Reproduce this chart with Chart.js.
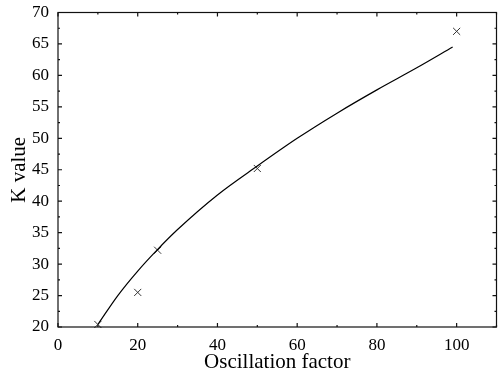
<!DOCTYPE html>
<html>
<head>
<meta charset="utf-8">
<script src="https://cdn.jsdelivr.net/npm/chart.js@4"></script>
<style>
  html, body { margin: 0; padding: 0; background: #fff; }
  #wrap { width: 498px; height: 373px; position: relative; }
</style>
</head>
<body>
<div id="wrap"><canvas id="c" width="498" height="373"></canvas></div>
<script>
// Measured points (crosses)
const measuredX = [10, 20, 25, 50, 100];
const measuredY = [20.4, 25.5, 32.2, 45.2, 67.0];

// Fitted curve
const curveX = [10, 15, 20, 25, 30, 40, 50, 60, 70, 80, 90, 99];
const curveY = [20.4, 25.0, 28.9, 32.35, 35.5, 41.0, 45.6, 50.0, 54.0, 57.7, 61.2, 64.5];

// Axes
const xTicks = [0, 20, 40, 60, 80, 100];
const yTicks = [20, 25, 30, 35, 40, 45, 50, 55, 60, 65, 70];
const xMinorStep = 10;
const yMinorStep = 2.5;
const xTitle = 'Oscillation factor';
const yTitle = 'K value';

const FONT = "'Liberation Serif', 'Times New Roman', serif";

const framePlugin = {
  id: 'frame',
  afterDraw(chart) {
    const {ctx, chartArea: a, scales: {x, y}} = chart;
    ctx.save();
    ctx.strokeStyle = '#111';
    ctx.lineWidth = 1.2;
    ctx.strokeRect(a.left, a.top, a.right - a.left, a.bottom - a.top);
    ctx.beginPath();
    for (let v = x.min; v <= x.max + 1e-9; v += xMinorStep) {
      const px = x.getPixelForValue(v);
      const major = xTicks.includes(v);
      const len = major ? 4 : 2;
      ctx.moveTo(px, a.bottom); ctx.lineTo(px, a.bottom - len);
      ctx.moveTo(px, a.top); ctx.lineTo(px, a.top + len);
    }
    for (let v = y.min; v <= y.max + 1e-9; v += yMinorStep) {
      const py = y.getPixelForValue(v);
      const major = yTicks.includes(v);
      const len = major ? 4 : 2;
      ctx.moveTo(a.left, py); ctx.lineTo(a.left + len, py);
      ctx.moveTo(a.right, py); ctx.lineTo(a.right - len, py);
    }
    ctx.stroke();
    ctx.restore();
  }
};

new Chart(document.getElementById('c'), {
  type: 'scatter',
  data: {
    datasets: [
      {
        label: 'fit',
        data: curveX.map((v, i) => ({x: v, y: curveY[i]})),
        showLine: true,
        borderColor: '#000',
        borderWidth: 1.2,
        pointRadius: 0,
        cubicInterpolationMode: 'monotone',
        fill: false
      },
      {
        label: 'measured',
        data: measuredX.map((v, i) => ({x: v, y: measuredY[i]})),
        pointStyle: 'crossRot',
        pointRadius: 5,
        borderColor: '#333',
        backgroundColor: '#333',
        pointBorderWidth: 1,
        showLine: false,
        clip: false
      }
    ]
  },
  options: {
    responsive: false,
    animation: false,
    devicePixelRatio: 1,
    layout: { autoPadding: false, padding: { top: 12.5, right: 1.5, left: 0, bottom: 0 } },
    plugins: {
      legend: { display: false },
      tooltip: { enabled: false }
    },
    scales: {
      x: {
        type: 'linear',
        min: 0, max: 110,
        grid: { display: false, drawTicks: false },
        border: { display: false },
        afterBuildTicks(scale) { scale.ticks = xTicks.map(v => ({value: v})); },
        ticks: {
          color: '#000',
          font: { family: FONT, size: 17 },
          padding: 8,
          maxRotation: 0,
          autoSkip: false
        },
        title: {
          display: true, text: xTitle, color: '#000',
          font: { family: FONT, size: 21, lineHeight: 1.0 },
          padding: { top: 0, bottom: 0 }
        },
        afterFit(scale) {
          scale.height = 46;
          scale.paddingLeft = 0; scale.paddingRight = 0;
          scale.paddingTop = 0; scale.paddingBottom = 0;
        }
      },
      y: {
        type: 'linear',
        min: 20, max: 70,
        grid: { display: false, drawTicks: false },
        border: { display: false },
        afterBuildTicks(scale) { scale.ticks = yTicks.map(v => ({value: v})); },
        ticks: {
          color: '#000',
          font: { family: FONT, size: 17 },
          padding: 9,
          autoSkip: false
        },
        title: {
          display: true, text: yTitle, color: '#000',
          font: { family: FONT, size: 21, lineHeight: 1.0 },
          padding: { top: 9, bottom: 0 }
        },
        afterFit(scale) {
          scale.width = 58;
          scale.paddingLeft = 0; scale.paddingRight = 0;
          scale.paddingTop = 0; scale.paddingBottom = 0;
        }
      }
    }
  },
  plugins: [framePlugin]
});
</script>
</body>
</html>
